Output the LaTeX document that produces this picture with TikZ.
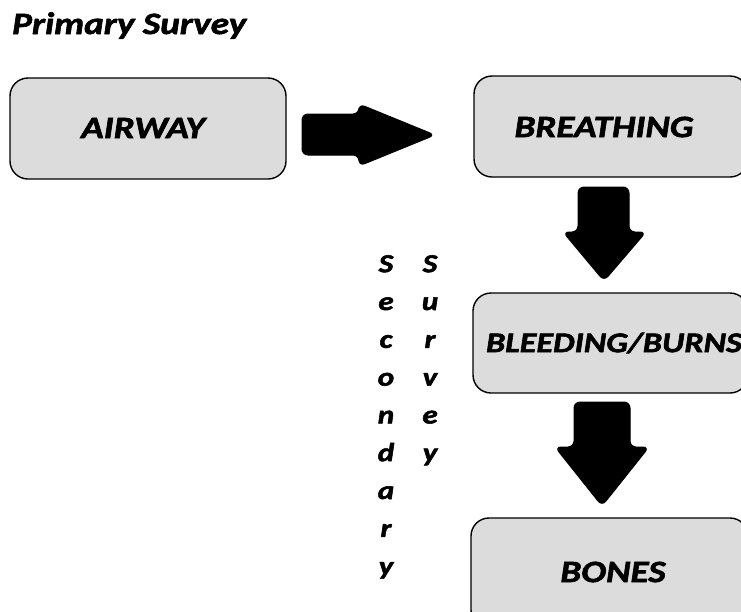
\documentclass[tikz,border=0pt]{standalone}
\usepackage{fontspec}
\newfontfamily\diafont[FakeStretch=1.2, BoldItalicFeatures={FakeBold=2}]{Carlito}
\definecolor{boxgray}{HTML}{DCDCDC}
\tikzset{
  stepbox/.style={draw=black, line width=1.4pt, fill=boxgray, rounded corners=18pt},
  boxtext/.style={inner sep=0pt, font=\diafont\bfseries\itshape\fontsize{31}{31}\selectfont},
  blockarrow/.style={fill=black, draw=black, line width=1pt, rounded corners=6pt},
  vertlabel/.style={inner sep=0pt, align=center, anchor=north,
    font=\diafont\bfseries\itshape\fontsize{26}{37.8}\selectfont}
}
\begin{document}
\begin{tikzpicture}[x=1pt,y=-1pt]
\useasboundingbox (0,0) rectangle (741,611);
\clip (0,0) rectangle (741,611);
\fill[white] (0,0) rectangle (741,611);
% title
\node[anchor=base west, inner sep=0pt, font=\diafont\bfseries\itshape\fontsize{31}{31}\selectfont] (title) at (12,34) {Primary Survey};
% boxes
\draw[stepbox] (10,78) rectangle (286,179);
\node[boxtext] (airway) at (143,128) {AIRWAY};
\draw[stepbox] (474,76) rectangle (748,177);
\node[boxtext] (breathing) at (604,127) {BREATHING};
\draw[stepbox] (473,293) rectangle (748,393);
\node[boxtext, font=\diafont\bfseries\itshape\fontsize{28.5}{28.5}\selectfont] (bleeding) at (614,343) {BLEEDING/BURNS};
\draw[stepbox] (471,518) rectangle (748,628);
\node[boxtext] (bones) at (613,572) {BONES};
% arrows
\draw[blockarrow] (302,114) -- (359,114) -- (359,104) -- (435,135) -- (359,166) -- (359,155) -- (302,155) -- cycle;
\draw[blockarrow] (578,187) -- (629,187) -- (629,232) -- (646,232) -- (604,281) -- (563,232) -- (578,232) -- cycle;
\draw[blockarrow] (574,402) -- (630,402) -- (630,447) -- (649,447) -- (602,506) -- (555,447) -- (574,447) -- cycle;
% vertical labels
\node[vertlabel] (secondary) at (386,255) {S\\e\\c\\o\\n\\d\\a\\r\\y};
\node[vertlabel] (survey) at (430,255) {S\\u\\r\\v\\e\\y};
\end{tikzpicture}
\end{document}
